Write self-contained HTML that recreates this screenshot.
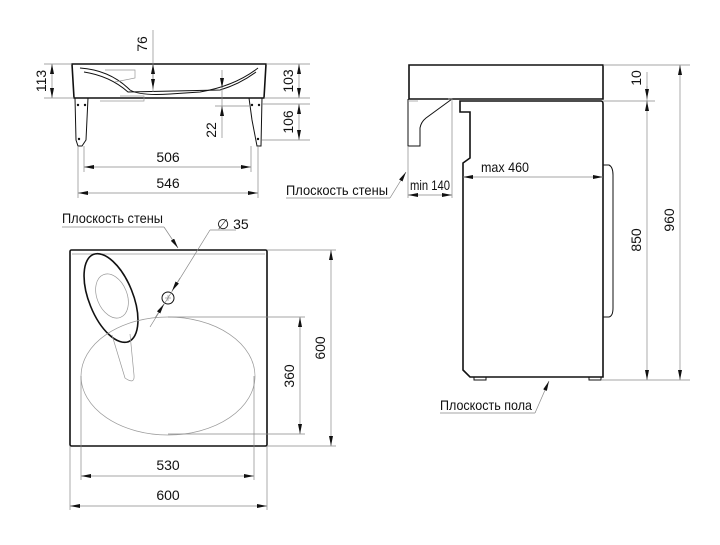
<!DOCTYPE html>
<html><head><meta charset="utf-8"><style>
html,body{margin:0;padding:0;background:#fff;}
svg{display:block;}
text{font-family:"Liberation Sans Narrow","Liberation Sans",sans-serif;font-size:14px;fill:#111;}
.t{stroke:#111;stroke-width:1.6;fill:none;}
.m{stroke:#111;stroke-width:1;fill:none;}
.th{stroke:#999;stroke-width:0.7;fill:none;}
.d{stroke:#888;stroke-width:0.7;fill:none;}
</style></head><body>
<svg width="720" height="545" viewBox="0 0 720 545" xmlns="http://www.w3.org/2000/svg">
<defs>
<marker id="a" viewBox="0 0 10 4" refX="10" refY="2" markerWidth="10" markerHeight="4" orient="auto-start-reverse" markerUnits="userSpaceOnUse"><path d="M0,0 L10,2 L0,4z" fill="#111"/></marker>
</defs>

<!-- ===== TOP LEFT: side section ===== -->
<path class="t" d="M72,64 L266,64 L264,98 L74,98 Z"/>
<path class="m" d="M80,68 Q110,70 130,90 Q140,96 170,94 L200,92 Q235,86 258,68"/>
<path class="m" d="M84,72 Q110,76 128,92 L220,90 Q240,84 256,72"/>
<path class="th" d="M105,70 L135,70 L135,78 L115,82 M120,96 L144,96 L144,101 L100,101"/>
<path class="m" d="M75,98 L88,98 L86,140 L82,146 L78,146 L76,140 Z"/>
<path class="m" d="M249,98 L262,98 L261,146 L257,146 L252,120 Z"/>
<circle cx="78" cy="105" r="1.2" fill="#111"/><circle cx="85" cy="105" r="1.2" fill="#111"/>
<circle cx="79" cy="139" r="1.2" fill="#111"/>
<circle cx="252" cy="105" r="1.2" fill="#111"/><circle cx="259" cy="105" r="1.2" fill="#111"/>
<circle cx="258" cy="139" r="1.2" fill="#111"/>
<path class="d" d="M44,64 L72,64 M44,98 L74,98"/>
<line class="d" x1="52" y1="64" x2="52" y2="98" marker-start="url(#a)" marker-end="url(#a)"/>
<text transform="translate(46,81) rotate(-90)" text-anchor="middle">113</text>
<path class="d" d="M266,64 L310,64 M264,98 L310,98 M262,104 L310,104 M262,140 L310,140"/>
<line class="d" x1="299" y1="64" x2="299" y2="98" marker-start="url(#a)" marker-end="url(#a)"/>
<line class="d" x1="299" y1="104" x2="299" y2="140" marker-start="url(#a)" marker-end="url(#a)"/>
<text transform="translate(293,81) rotate(-90)" text-anchor="middle">103</text>
<text transform="translate(293,122) rotate(-90)" text-anchor="middle">106</text>
<line class="d" x1="153" y1="30" x2="153" y2="92"/>
<line class="d" x1="153" y1="76" x2="153" y2="64" marker-end="url(#a)"/>
<line class="d" x1="153" y1="76" x2="153" y2="89" marker-end="url(#a)"/>
<text transform="translate(147,44) rotate(-90)" text-anchor="middle">76</text>
<line class="d" x1="222" y1="70" x2="222" y2="138"/>
<line class="d" x1="222" y1="78" x2="222" y2="88" marker-end="url(#a)"/>
<line class="d" x1="222" y1="116" x2="222" y2="106" marker-end="url(#a)"/>
<path class="d" d="M215,106 L249,106"/>
<text transform="translate(216,130) rotate(-90)" text-anchor="middle">22</text>
<path class="d" d="M84,146 L84,172 M251,146 L251,172 M78,146 L78,198 M258,146 L258,198"/>
<line class="d" x1="84" y1="167" x2="251" y2="167" marker-start="url(#a)" marker-end="url(#a)"/>
<line class="d" x1="78" y1="193" x2="258" y2="193" marker-start="url(#a)" marker-end="url(#a)"/>
<text x="168" y="162" text-anchor="middle">506</text>
<text x="168" y="188" text-anchor="middle">546</text>

<!-- ===== BOTTOM LEFT: plan ===== -->
<rect class="t" x="70" y="250" width="197" height="196" rx="1.5"/>
<line class="th" x1="72" y1="254" x2="265" y2="254"/>
<ellipse class="t" cx="111" cy="298" rx="22" ry="47" transform="rotate(-22 111 298)"/>
<ellipse class="th" cx="112" cy="296" rx="15" ry="23" transform="rotate(-22 112 296)"/>
<path class="th" d="M112,335 L125,378 Q135,385 134,375 L130,334"/>
<ellipse class="th" cx="168" cy="376" rx="87" ry="59"/>
<circle class="m" cx="168" cy="298" r="6"/>
<path class="th" d="M165,298 L171,298 M168,295 L168,301"/>
<line class="d" x1="150" y1="327" x2="210" y2="230"/>
<line class="d" x1="210" y1="230" x2="236" y2="230"/>
<line class="d" x1="180" y1="278" x2="172" y2="291" marker-end="url(#a)"/>
<line class="d" x1="155" y1="318" x2="164" y2="304" marker-end="url(#a)"/>
<text x="217" y="229">∅ 35</text>
<text x="62" y="223" textLength="101" lengthAdjust="spacingAndGlyphs">Плоскость стены</text>
<line class="d" x1="62" y1="227" x2="164" y2="227"/>
<line class="d" x1="164" y1="227" x2="178" y2="248" marker-end="url(#a)"/>
<path class="d" d="M168,317 L305,317 M168,434 L305,434 M267,250 L336,250 M267,446 L336,446"/>
<line class="d" x1="300" y1="317" x2="300" y2="434" marker-start="url(#a)" marker-end="url(#a)"/>
<line class="d" x1="331" y1="250" x2="331" y2="446" marker-start="url(#a)" marker-end="url(#a)"/>
<text transform="translate(294,376) rotate(-90)" text-anchor="middle">360</text>
<text transform="translate(325,348) rotate(-90)" text-anchor="middle">600</text>
<path class="d" d="M81,376 L81,480 M254,376 L254,480 M70,446 L70,510 M267,446 L267,510"/>
<line class="d" x1="81" y1="476" x2="254" y2="476" marker-start="url(#a)" marker-end="url(#a)"/>
<line class="d" x1="70" y1="506" x2="267" y2="506" marker-start="url(#a)" marker-end="url(#a)"/>
<text x="168" y="470" text-anchor="middle">530</text>
<text x="168" y="500" text-anchor="middle">600</text>

<!-- ===== RIGHT: side view ===== -->
<path class="t" d="M409,65 L603,65 L603,99 L409,99 Z"/>
<path class="m" d="M408,99 L408,146 L420,146 L420,128 Q421,122 426,118 L452,99"/>
<path class="th" d="M408,101 L418,101 M448,99 L452,99 L452,102"/>
<path class="t" d="M460,101 L601,101 Q603,101 603,104 L603,377 L470,377 L463,370 L463,163 L470,158 L470,112 L460,112 Z"/>
<path class="m" d="M474,377 L474,380 L486,380 L486,377 M589,377 L589,380 L601,380 L601,377"/>
<path class="m" d="M603,165 L609,165 Q613,167 613,175 L613,308 Q613,316 609,317 L603,317"/>
<path class="d" d="M603,65 L690,65 M603,101 L655,101 M601,380 L690,380"/>
<line class="d" x1="647" y1="72" x2="647" y2="110"/>
<line class="d" x1="647" y1="86" x2="647" y2="99" marker-end="url(#a)"/>
<line class="d" x1="647" y1="380" x2="647" y2="101" marker-start="url(#a)" marker-end="url(#a)"/>
<line class="d" x1="680" y1="65" x2="680" y2="380" marker-start="url(#a)" marker-end="url(#a)"/>
<text transform="translate(641,78) rotate(-90)" text-anchor="middle">10</text>
<text transform="translate(641,240) rotate(-90)" text-anchor="middle">850</text>
<text transform="translate(674,220) rotate(-90)" text-anchor="middle">960</text>
<line class="d" x1="463" y1="177" x2="603" y2="177" marker-start="url(#a)" marker-end="url(#a)"/>
<text x="505" y="172" text-anchor="middle" textLength="48" lengthAdjust="spacingAndGlyphs">max 460</text>
<path class="d" d="M452,102 L452,198 M408,146 L408,198"/>
<line class="d" x1="408" y1="195" x2="452" y2="195" marker-start="url(#a)" marker-end="url(#a)"/>
<text x="430" y="190" text-anchor="middle" textLength="40" lengthAdjust="spacingAndGlyphs">min 140</text>
<text x="286" y="195" textLength="102" lengthAdjust="spacingAndGlyphs">Плоскость стены</text>
<line class="d" x1="286" y1="198" x2="390" y2="198"/>
<line class="d" x1="390" y1="198" x2="406" y2="172" marker-end="url(#a)"/>
<text x="440" y="410" textLength="92" lengthAdjust="spacingAndGlyphs">Плоскость пола</text>
<line class="d" x1="440" y1="413" x2="535" y2="413"/>
<line class="d" x1="535" y1="413" x2="549" y2="381" marker-end="url(#a)"/>
</svg>
</body></html>
